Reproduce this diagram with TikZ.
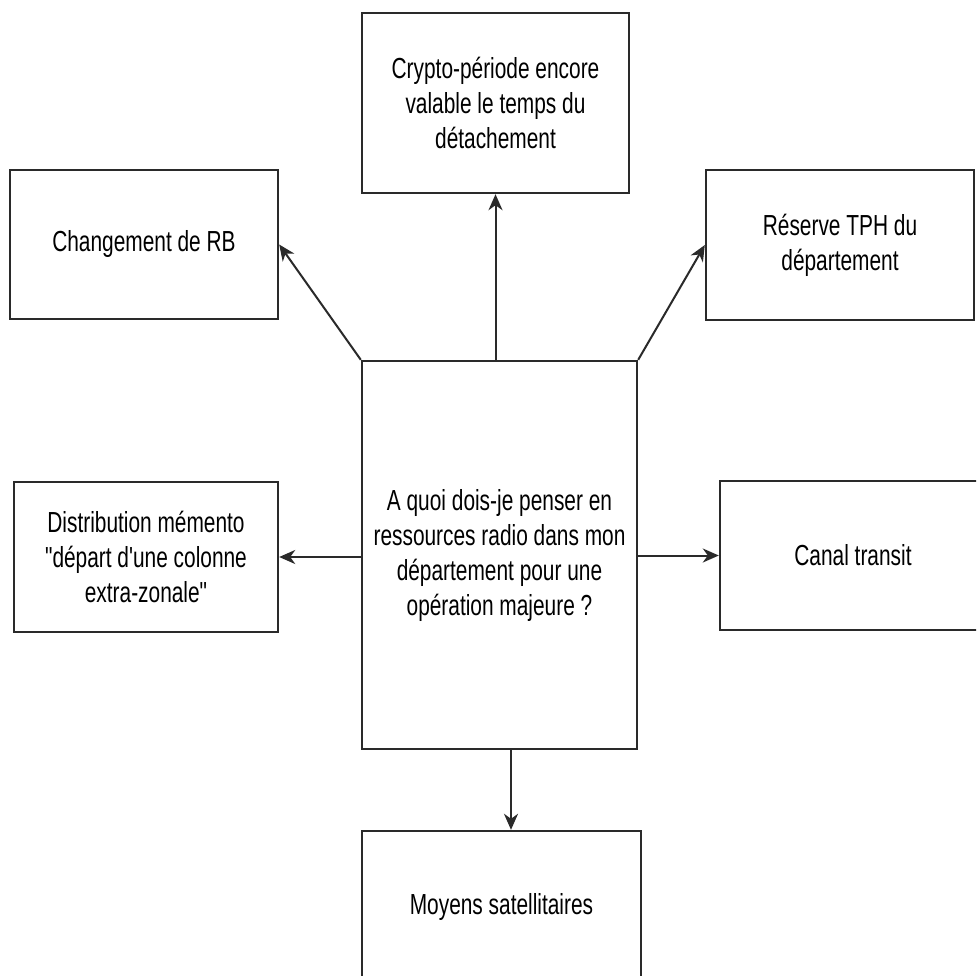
\documentclass[tikz,border=0pt]{standalone}
\usepackage{fontspec}
\newfontfamily\labelfont{Liberation Sans}[FakeStretch=0.72]
\usetikzlibrary{arrows.meta}
\definecolor{edge}{HTML}{2A2A2A}
\begin{document}
\begin{tikzpicture}[x=1pt,y=-1pt,
  box/.style={draw=edge,line width=2.4pt,fill=white,inner sep=0pt,align=center,
    font=\labelfont\fontsize{29}{35}\selectfont,text=black},
  link/.style={draw=edge,line width=2pt,-{Stealth[length=16pt,width=14pt,inset=5pt]}}]
\useasboundingbox (0,0) rectangle (976,976);
\clip (0,0) rectangle (976,976);
\fill[white] (0,0) rectangle (976,976);

% central question
\node[box,minimum width=275pt,minimum height=388pt] (c) at (499.5,555)
  {A quoi dois-je penser en\\ressources radio dans mon\\département pour une\\opération majeure ?};

% surrounding topics
\node[box,minimum width=268pt,minimum height=149pt] (rb) at (144,244.5) {Changement de RB};
\node[box,minimum width=267pt,minimum height=180pt] (crypto) at (495.5,103)
  {Crypto-période encore\\valable le temps du\\détachement};
\node[box,minimum width=268pt,minimum height=150pt] (tph) at (840,245)
  {Réserve TPH du\\département};
\node[box,minimum width=264pt,minimum height=150pt] (distrib) at (146,557)
  {Distribution mémento\\"départ d'une colonne\\extra-zonale"};
\node[box,minimum width=266pt,minimum height=149pt] (canal) at (853,555.5) {Canal transit};
\node[box,minimum width=279pt,minimum height=152pt] (moy) at (501.5,907) {Moyens satellitaires};

% connectors
\draw[link] (c.north west) -- (rb.east);
\draw[link] (crypto.south |- c.north) -- (crypto.south);
\draw[link] (c.north east) -- (tph.west);
\draw[link] (c.west |- distrib.east) -- (distrib.east);
\draw[link] (c.east |- canal.west) -- (canal.west);
\draw[link] ([xshift=11.5pt]c.south) -- ([xshift=11.5pt]c.south |- moy.north);
\end{tikzpicture}
\end{document}
